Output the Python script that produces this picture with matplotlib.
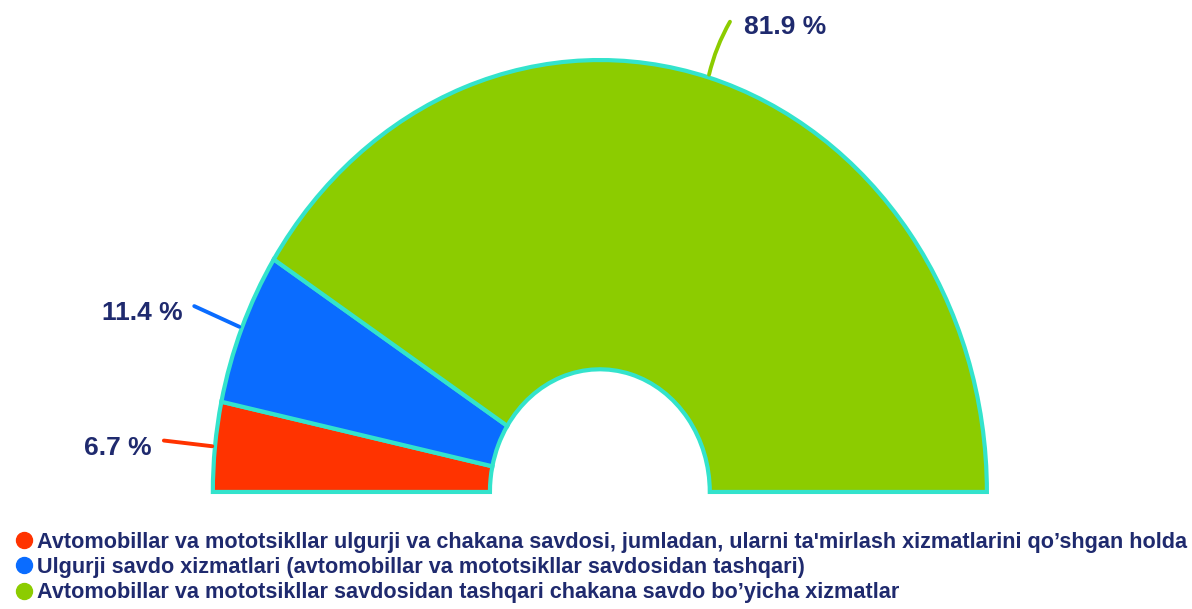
import numpy as np
import matplotlib.pyplot as plt
from matplotlib.lines import Line2D

plt.rcParams['font.family'] = ['Liberation Sans', 'DejaVu Sans']

# Ulushlar (%)
categories = [
    "Avtomobillar va mototsikllar ulgurji va chakana savdosi, jumladan, ularni ta'mirlash xizmatlarini qo\u2019shgan holda",
    "Ulgurji savdo xizmatlari (avtomobillar va mototsikllar savdosidan tashqari)",
    "Avtomobillar va mototsikllar savdosidan tashqari chakana savdo bo\u2019yicha xizmatlar",
]
shares = [6.7, 11.4, 81.9]
labels = ["6.7 %", "11.4 %", "81.9 %"]
colors = ['#ff3300', '#0a6cff', '#8ccc00']
edge = '#33e3cc'
txt_color = '#1f2a6e'

fig = plt.figure(figsize=(11.92, 6.09), dpi=100)
ax = fig.add_axes([0, 0, 1, 1])

# yarim halqa: 100% = 180 gradus
wedges, _ = ax.pie(np.array(shares) / 200, normalize=False, startangle=180, counterclock=False,
                   colors=colors, radius=1.0,
                   wedgeprops=dict(width=0.716, edgecolor=edge, linewidth=3))

ax.set_aspect('auto')
ax.set_xlim(-1.550, 1.530)
ax.set_ylim(-0.271, 1.139)
ax.axis('off')

# yozuvlar va chiziqlar
start = 180.0
for w, lab, col, s in zip(wedges, labels, colors, shares):
    ang = np.deg2rad(start - s * 1.8 / 2)
    start -= s * 1.8
    x0, y0 = np.cos(ang), np.sin(ang)
    x1, y1 = 1.14 * np.cos(ang), 1.14 * np.sin(ang)
    if x1 < 0:
        ax.annotate('', xy=(x0, y0), xytext=(x1, y1),
                    arrowprops=dict(arrowstyle='-', color=col, lw=2.8))
        ax.annotate(lab, xy=(x1, y1), xytext=(-9, -8), textcoords='offset pixels',
                    ha='right', va='center', fontsize=19, fontweight='bold', color=txt_color)
    else:
        ax.annotate('', xy=(x0, y0), xytext=(x1 + 0.02, y1),
                    arrowprops=dict(arrowstyle='-', color=col, lw=2.8,
                                    connectionstyle='arc3,rad=0.08'))
        ax.annotate(lab, xy=(x1, y1), xytext=(20, -8), textcoords='offset pixels',
                    ha='left', va='center', fontsize=19, fontweight='bold', color=txt_color)

handles = [Line2D([], [], marker='o', linestyle='', markersize=11.5, color=c) for c in colors]
leg = fig.legend(handles, categories, loc='lower left', bbox_to_anchor=(0.004, -0.005),
                 frameon=False, handletextpad=0.1, labelspacing=0.2, handlelength=1.0,
                 prop=dict(size=15.6, weight='bold'), borderaxespad=0)
for t in leg.get_texts():
    t.set_color(txt_color)

fig.savefig('out.png', dpi=100)
